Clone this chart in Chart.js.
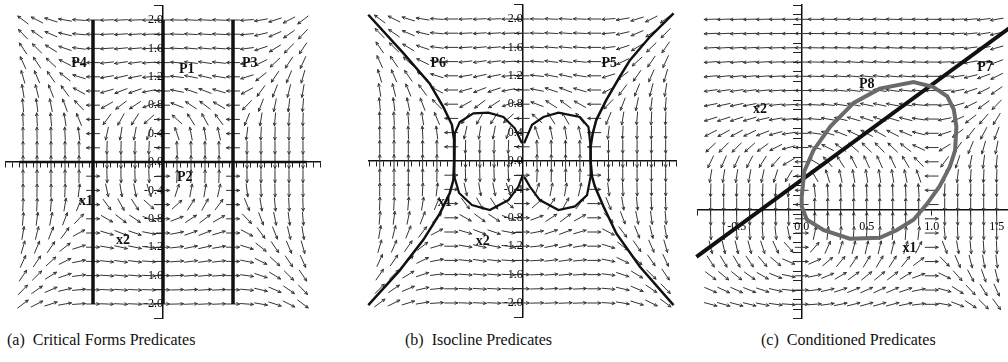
<!DOCTYPE html>
<html>
<head>
<meta charset="utf-8">
<script src="https://cdn.jsdelivr.net/npm/chart.js@4.4.1/dist/chart.umd.min.js"></script>
<style>
  body { margin: 0; background: #fff; width: 1008px; height: 362px; position: relative; overflow: hidden; }
  canvas { position: absolute; top: 0; }
  .caption { position: absolute; top: 331px; font: 16px "Liberation Serif", "Times New Roman", serif; color: #111; white-space: nowrap; }
</style>
</head>
<body>
<canvas id="chartA" width="330" height="322" style="left:0"></canvas>
<canvas id="chartB" width="340" height="322" style="left:340px"></canvas>
<canvas id="chartC" width="330" height="322" style="left:680px"></canvas>
<div class="caption" style="left:7px">(a)&nbsp; Critical Forms Predicates</div>
<div class="caption" style="left:405px">(b)&nbsp; Isocline Predicates</div>
<div class="caption" style="left:761px">(c)&nbsp; Conditioned Predicates</div>
<script>
// System: x1' = -x2^3, x2' = x1 - x1^3   (terms: [coef, power of x1, power of x2])
const fieldX1Terms = [[-1, 0, 3]];
const fieldX2Terms = [[1, 1, 0], [-1, 3, 0]];

// Arrow sample grid
const arrowColsAB = [-2.0, -1.8, -1.6, -1.4, -1.2, -1.0, -0.8, -0.6, -0.4, -0.2, 0.0, 0.2, 0.4, 0.6, 0.8, 1.0, 1.2, 1.4, 1.6, 1.8, 2.0];
const arrowRowsAB = [-2.0, -1.8, -1.6, -1.4, -1.2, -1.0, -0.8, -0.6, -0.4, -0.2, 0.0, 0.2, 0.4, 0.6, 0.8, 1.0, 1.2, 1.4, 1.6, 1.8, 2.0];
const arrowColsC = [-0.7, -0.6, -0.5, -0.4, -0.3, -0.2, -0.1, 0.0, 0.1, 0.2, 0.3, 0.4, 0.5, 0.6, 0.7, 0.8, 0.9, 1.0, 1.1, 1.2, 1.3, 1.4, 1.5];
const arrowRowsC = [-1.0, -0.85, -0.7, -0.55, -0.4, -0.25, -0.1, 0.05, 0.2, 0.35, 0.5, 0.65, 0.8, 0.95, 1.1, 1.25, 1.4, 1.55, 1.7, 1.85, 2.0];

// (a) critical form lines
const critLinesX1 = [-1, 0, 1];
const critSpanX2 = [-2.0, 2.0];
const critLinesX2 = [0];
const critSpanX1 = [-2.05, 2.05];

// (b) isoclines
const isoRightX = [2.11, 1.78, 1.50, 1.36, 1.17, 1.03, 0.98, 0.95, 0.95, 0.97, 1.01, 1.13, 1.31, 1.64, 2.11];
const isoRightY = [2.08, 1.75, 1.42, 1.19, 0.86, 0.58, 0.39, 0.20, 0.00, -0.22, -0.36, -0.64, -1.02, -1.49, -2.03];
const isoLeftX = [-2.16, -1.67, -1.30, -1.11, -0.99, -0.96, -0.96, -0.97, -1.02, -1.16, -1.39, -1.72, -2.16];
const isoLeftY = [2.06, 1.52, 1.09, 0.76, 0.51, 0.30, 0.00, -0.27, -0.45, -0.74, -1.11, -1.54, -2.03];
const ovalRightX = [0.02, 0.13, 0.29, 0.50, 0.80, 0.92, 0.95, 0.95, 0.95, 0.90, 0.73, 0.50, 0.24, 0.10, 0.02];
const ovalRightY = [0.25, 0.51, 0.62, 0.68, 0.62, 0.48, 0.20, 0.00, -0.22, -0.48, -0.64, -0.69, -0.55, -0.36, -0.22];
const ovalLeftX = [-0.01, -0.11, -0.27, -0.48, -0.69, -0.88, -0.95, -0.96, -0.96, -0.95, -0.89, -0.71, -0.46, -0.20, -0.06, 0.00];
const ovalLeftY = [0.25, 0.46, 0.62, 0.68, 0.67, 0.55, 0.39, 0.20, 0.00, -0.22, -0.45, -0.62, -0.69, -0.55, -0.36, -0.20];

// (c) conditioned predicates
const p7X = [-0.81, 1.60];
const p7Y = [-0.50, 1.91];
const p8X = [0.00, 0.02, 0.09, 0.22, 0.40, 0.60, 0.86, 1.01, 1.12, 1.17, 1.19, 1.18, 1.14, 1.06, 0.96, 0.86, 0.73, 0.60, 0.37, 0.17, 0.04, 0.00, 0.00];
const p8Y = [0.13, 0.40, 0.62, 0.87, 1.12, 1.27, 1.34, 1.29, 1.19, 1.05, 0.87, 0.62, 0.45, 0.24, 0.05, -0.11, -0.22, -0.30, -0.31, -0.22, -0.11, 0.03, 0.13];

// Region labels
const labelsA = { text: ['P4', 'P1', 'P3', 'P2', 'x1', 'x2'], x: [-1.2, 0.34, 1.24, 0.31, -1.1, -0.57], y: [1.39, 1.30, 1.39, -0.21, -0.56, -1.11] };
const labelsB = { text: ['P6', 'P5', 'x1', 'x2'], x: [-1.18, 1.21, -1.09, -0.56], y: [1.38, 1.38, -0.58, -1.13] };
const labelsC = { text: ['P7', 'P8', 'x2', 'x1'], x: [1.41, 0.50, -0.32, 0.83], y: [1.49, 1.31, 1.05, -0.41] };

function evalTerms(terms, a, b) {
  let s = 0;
  for (const [c, p, q] of terms) s += c * Math.pow(a, p) * Math.pow(b, q);
  return s;
}

function toPoints(xs, ys) {
  return xs.map((v, i) => ({ x: v, y: ys[i] }));
}

// Short normalised arrows of the vector field
const arrowPlugin = {
  id: 'fieldArrows',
  beforeDatasetsDraw(chart, args, opts) {
    const { ctx, scales: { x, y } } = chart;
    const sx = x.getPixelForValue(1) - x.getPixelForValue(0);
    const sy = y.getPixelForValue(0) - y.getPixelForValue(1);
    const len = 13, head = 3;
    ctx.save();
    ctx.strokeStyle = '#333';
    ctx.lineWidth = 1;
    ctx.lineCap = 'round';
    for (const gy of opts.rows) {
      for (const gx of opts.cols) {
        const u = evalTerms(fieldX1Terms, gx, gy) * sx;
        const v = -evalTerms(fieldX2Terms, gx, gy) * sy;
        const m = Math.hypot(u, v);
        if (m < 1e-9) continue;
        const ux = u / m, uy = v / m;
        const cx = x.getPixelForValue(gx), cy = y.getPixelForValue(gy);
        const tx = cx + ux * len / 2, ty = cy + uy * len / 2;
        ctx.beginPath();
        ctx.moveTo(cx - ux * len / 2, cy - uy * len / 2);
        ctx.lineTo(tx, ty);
        const a = Math.atan2(uy, ux);
        ctx.moveTo(tx - head * Math.cos(a - 0.45), ty - head * Math.sin(a - 0.45));
        ctx.lineTo(tx, ty);
        ctx.lineTo(tx - head * Math.cos(a + 0.45), ty - head * Math.sin(a + 0.45));
        ctx.stroke();
      }
    }
    ctx.restore();
  }
};

const textPlugin = {
  id: 'regionText',
  afterDatasetsDraw(chart, args, opts) {
    const { ctx, scales: { x, y } } = chart;
    ctx.save();
    ctx.font = 'bold 14px "Liberation Serif", serif';
    ctx.fillStyle = '#111';
    ctx.textAlign = 'center';
    ctx.textBaseline = 'middle';
    opts.text.forEach((t, i) => ctx.fillText(t, x.getPixelForValue(opts.x[i]), y.getPixelForValue(opts.y[i])));
    ctx.restore();
  }
};

function zeroPadding(scale) {
  scale.paddingLeft = 0; scale.paddingRight = 0;
  scale.paddingTop = 0; scale.paddingBottom = 0;
}

const tickFont = { family: '"Liberation Serif", serif', size: 12 };

function xAxis(min, max, label) {
  return {
    type: 'linear', min, max,
    position: { y: 0 },
    grid: { drawOnChartArea: false, drawTicks: true, tickLength: 5, tickColor: '#222', tickWidth: 1 },
    border: { display: true, color: '#111', width: 1.5 },
    ticks: { stepSize: 0.1, autoSkip: false, maxRotation: 0, padding: 5, color: '#000', font: tickFont, callback: label },
    afterFit: zeroPadding
  };
}

function yAxis(min, max, step, label) {
  return {
    type: 'linear', min, max,
    position: { x: 0 },
    grid: { drawOnChartArea: false, drawTicks: true, tickLength: 8, tickColor: '#222', tickWidth: 1 },
    border: { display: true, color: '#111', width: 1.5 },
    ticks: { stepSize: step, autoSkip: false, padding: 2, color: '#000', font: tickFont, callback: label },
    afterFit: zeroPadding
  };
}

const tenths = v => Math.round(v * 10);
const onGrid = v => Math.abs(v * 10 - Math.round(v * 10)) < 1e-6;

const labelPm2 = v => {
  if (!onGrid(v)) return '';
  const r = tenths(v);
  return r === -20 ? '-2' : r === 20 ? '2' : '';
};
const labelEvery04 = v => {
  if (!onGrid(v)) return '';
  const r = tenths(v);
  return (Math.abs(r) <= 20 && r % 4 === 0) ? (r / 10).toFixed(1) : '';
};
const labelEvery05 = v => {
  if (!onGrid(v)) return '';
  const r = tenths(v);
  return r % 5 === 0 ? (r / 10).toFixed(1) : '';
};

function baseOptions(pad, scales, arrows, labels) {
  return {
    responsive: false,
    animation: false,
    events: [],
    layout: { padding: pad },
    scales,
    plugins: {
      legend: { display: false },
      tooltip: { enabled: false },
      fieldArrows: arrows,
      regionText: labels
    },
    elements: { point: { radius: 0 } }
  };
}

function lineSet(points, width, color) {
  return { data: points, showLine: true, borderColor: color, borderWidth: width, pointRadius: 0, clip: false, tension: 0 };
}

// (a) Critical forms
const datasetsA = [
  ...critLinesX1.map(c => lineSet(critSpanX2.map(v => ({ x: c, y: v })), 3.5, '#111')),
  ...critLinesX2.map(c => lineSet(critSpanX1.map(v => ({ x: v, y: c })), 2.5, '#111'))
];
new Chart(document.getElementById('chartA'), {
  type: 'scatter',
  data: { datasets: datasetsA },
  options: baseOptions({ left: 5.5, right: 9.5, top: 5.8, bottom: 3.8 },
    { x: xAxis(-2.25, 2.25, labelPm2), y: yAxis(-2.2, 2.2, 0.2, labelEvery04) },
    { cols: arrowColsAB, rows: arrowRowsAB }, labelsA),
  plugins: [arrowPlugin, textPlugin]
});

// (b) Isoclines
const datasetsB = [
  lineSet(toPoints(isoRightX, isoRightY), 2.5, '#111'),
  lineSet(toPoints(isoLeftX, isoLeftY), 2.5, '#111'),
  lineSet(toPoints(ovalRightX, ovalRightY), 2.2, '#111'),
  lineSet(toPoints(ovalLeftX, ovalLeftY), 2.2, '#111')
];
new Chart(document.getElementById('chartB'), {
  type: 'scatter',
  data: { datasets: datasetsB },
  options: baseOptions({ left: 29, right: 3.6, top: 4.8, bottom: 4.8 },
    { x: xAxis(-2.15, 2.15, labelPm2), y: yAxis(-2.2, 2.2, 0.2, labelEvery04) },
    { cols: arrowColsAB, rows: arrowRowsAB }, labelsB),
  plugins: [arrowPlugin, textPlugin]
});

// (c) Conditioned predicates
const datasetsC = [
  lineSet(toPoints(p8X, p8Y), 4, '#6a6a6a'),
  lineSet(toPoints(p8X, p8Y), 2, '#b4b4b4'),
  lineSet(toPoints(p7X, p7Y), 4, '#111')
];
new Chart(document.getElementById('chartC'), {
  type: 'scatter',
  data: { datasets: datasetsC },
  options: baseOptions({ left: 17.7, right: 0.3, top: 5.05, bottom: 3.45 },
    { x: xAxis(-0.8, 1.6, labelEvery05), y: yAxis(-1.15, 2.15, 0.1, labelEvery05) },
    { cols: arrowColsC, rows: arrowRowsC }, labelsC),
  plugins: [arrowPlugin, textPlugin]
});
</script>
</body>
</html>
